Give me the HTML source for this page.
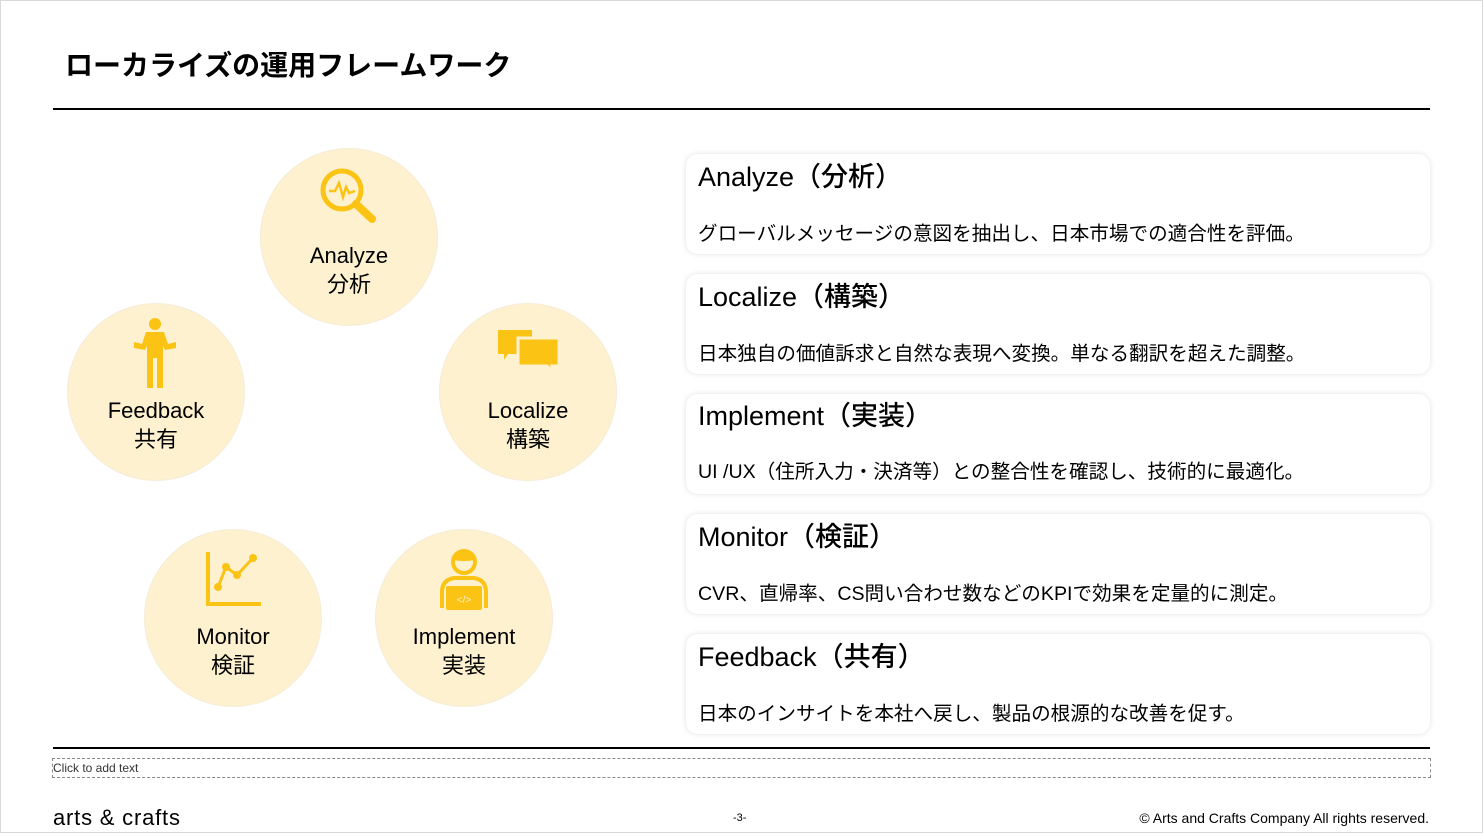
<!DOCTYPE html>
<html><head><meta charset="utf-8"><style>
body{margin:0;width:1483px;height:833px;background:#fff;position:relative;overflow:hidden;font-family:"Liberation Sans","Noto Sans CJK JP",sans-serif;color:#000}
.abs{position:absolute}
.c{position:absolute;width:176px;height:176px;border-radius:50%;background:#fdf1cf;box-shadow:0 0 0 1px #f6ecd6;text-align:center;font-size:22px;line-height:29px}
.c .t{position:absolute;left:0;right:0}
.card{position:absolute;left:686px;width:744px;height:100px;border-radius:12px;background:#fff;box-shadow:0 0 6px rgba(0,0,0,0.12)}
.card .h{position:absolute;left:12px;top:1px;font-size:27px;font-weight:500}
.card .b{position:absolute;left:12px;top:63px;font-size:19.6px}
</style></head><body>
<div class="abs" style="left:0;top:0;width:1481px;height:831px;border:1px solid #d8d8d8"></div>
<div class="abs" style="left:65px;top:44px;font-size:28px;font-weight:bold">ローカライズの運用フレームワーク</div>
<div class="abs" style="left:53px;top:108px;width:1377px;height:2px;background:#000"></div>

<div class="c" style="left:261px;top:149px"><svg class="abs" style="left:54px;top:14px" width="66" height="66" viewBox="0 0 66 66"><circle cx="27" cy="27" r="19" fill="none" stroke="#fbc314" stroke-width="5"/><polyline points="14,28 20,28 24,20 28,34 31,24 34,30 40,28" fill="none" stroke="#fbc314" stroke-width="2.5"/><line x1="41" y1="41" x2="57" y2="56" stroke="#fbc314" stroke-width="8" stroke-linecap="round"/></svg><div class="t" style="top:92px">Analyze<br>分析</div></div>

<div class="c" style="left:68px;top:304px"><svg class="abs" style="left:60px;top:14px" width="56" height="72" viewBox="0 0 56 72"><circle cx="27" cy="6" r="6" fill="#fbc314"/><path d="M18 14 H36 L40 26 L48 24 V30 L37 32 L35 28 V70 H29 V40 H25 V70 H19 V28 L17 32 L6 30 V24 L14 26 Z" fill="#fbc314"/></svg><div class="t" style="top:92px">Feedback<br>共有</div></div>

<div class="c" style="left:440px;top:304px"><svg class="abs" style="left:56px;top:24px" width="66" height="52" viewBox="0 0 66 52"><path d="M2 2 H36 V26 H12 L8 32 V26 H2 Z" fill="#fbc314"/><path d="M22 10 H63 V38 H56 L58 44 L51 38 H22 Z" fill="#fbc314" stroke="#fdf1cf" stroke-width="3"/></svg><div class="t" style="top:92px">Localize<br>構築</div></div>

<div class="c" style="left:145px;top:530px"><svg class="abs" style="left:60px;top:20px" width="58" height="58" viewBox="0 0 58 58"><polyline points="3,2 3,54 56,54" fill="none" stroke="#fbc314" stroke-width="4"/><polyline points="13,37 21,17 32,25 48,8" fill="none" stroke="#fbc314" stroke-width="3"/><circle cx="13" cy="37" r="4" fill="#fbc314"/><circle cx="21" cy="17" r="4" fill="#fbc314"/><circle cx="32" cy="25" r="4" fill="#fbc314"/><circle cx="48" cy="8" r="4" fill="#fbc314"/></svg><div class="t" style="top:92px">Monitor<br>検証</div></div>

<div class="c" style="left:376px;top:530px"><svg class="abs" style="left:60px;top:18px" width="56" height="66" viewBox="0 0 56 66"><circle cx="28" cy="14" r="11" fill="none" stroke="#fbc314" stroke-width="4"/><path d="M17 12 Q22 2 34 6 L39 12 Q28 14 17 12Z" fill="#fbc314"/><path d="M6 60 V44 Q6 32 18 30 H38 Q50 32 50 44 V60" fill="none" stroke="#fbc314" stroke-width="4"/><rect x="10" y="38" width="36" height="24" rx="2" fill="#fbc314"/><text x="28" y="55" font-size="10" fill="#fdf1cf" text-anchor="middle" font-family="Liberation Sans">&lt;/&gt;</text></svg><div class="t" style="top:92px">Implement<br>実装</div></div>

<div class="card" style="top:154px"><div class="h">Analyze（分析）</div><div class="b">グローバルメッセージの意図を抽出し、日本市場での適合性を評価。</div></div>
<div class="card" style="top:274px"><div class="h">Localize（構築）</div><div class="b">日本独自の価値訴求と自然な表現へ変換。単なる翻訳を超えた調整。</div></div>
<div class="card" style="top:394px"><div class="h" style="top:0px">Implement（実装）</div><div class="b" style="top:61px">UI /UX（住所入力・決済等）との整合性を確認し、技術的に最適化。</div></div>
<div class="card" style="top:514px"><div class="h">Monitor（検証）</div><div class="b">CVR、直帰率、CS問い合わせ数などのKPIで効果を定量的に測定。</div></div>
<div class="card" style="top:634px"><div class="h">Feedback（共有）</div><div class="b">日本のインサイトを本社へ戻し、製品の根源的な改善を促す。</div></div>

<div class="abs" style="left:53px;top:747px;width:1377px;height:2px;background:#000"></div>
<div class="abs" style="left:52px;top:758px;width:1377px;height:18px;border:1px dashed #888;font-size:12px;line-height:18px;color:#333">Click to add text</div>
<div class="abs" style="left:53px;top:805px;font-size:22px;letter-spacing:0.8px">arts &amp; crafts</div>
<div class="abs" style="left:733px;top:812px;font-size:11px">-3-</div>
<div class="abs" style="right:54px;top:810px;font-size:14px">© Arts and Crafts Company All rights reserved.</div>
</body></html>
